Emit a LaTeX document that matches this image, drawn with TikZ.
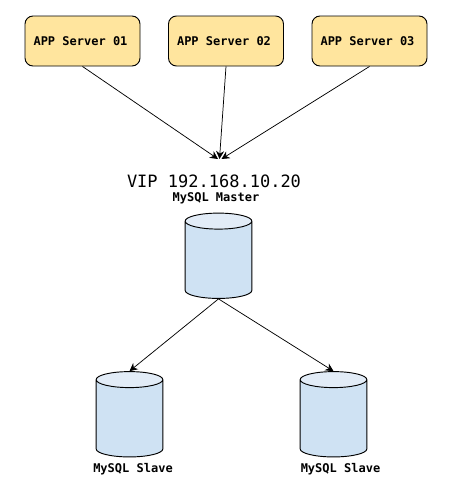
\documentclass[tikz,border=0pt]{standalone}
\usepackage{fontspec}
\setmonofont{DejaVu Sans Mono}
\usetikzlibrary{arrows.meta,shapes.geometric}
\definecolor{appfill}{HTML}{FFE59E}
\definecolor{dbbody}{HTML}{CFE2F3}
\definecolor{dbtop}{HTML}{E2ECF7}
\tikzset{
	appbox/.style={draw, fill=appfill, rounded corners=6pt, line width=0.7pt, inner sep=0pt, minimum width=86.25pt, minimum height=37.5pt, font=\ttfamily\bfseries\fontsize{9}{11}\selectfont},
	dbnode/.style={draw, cylinder, shape border rotate=90, aspect=0.24, inner sep=25pt, minimum height=64pt, cylinder uses custom fill, cylinder body fill=dbbody, cylinder end fill=dbtop, line width=0.7pt},
	dblabel/.style={font=\ttfamily\bfseries\fontsize{9}{11}\selectfont, inner sep=0pt},
	link/.style={-{Stealth[length=6pt,width=6pt]}, line width=0.55pt}
}
\begin{document}
\begin{tikzpicture}[x=0.75pt, y=-0.75pt]
	\useasboundingbox (0,0) rectangle (456,496);
	\foreach \i/\x/\t in {1/82.5/218,2/226/219.5,3/369.5/221.5} {
		\node[appbox] (app\i) at (\x,41) {APP Server 0\i\kern3pt};
		\coordinate (vip\i) at (\t,159);
		\draw[link] (app\i.south) -- (vip\i);
	}
	\node[font=\ttfamily\fontsize{12.75}{15}\selectfont, inner sep=0pt] (viplabel) at (214,181) {VIP 192.168.10.20};
	\node[dblabel] (masterlabel) at (216,198) {MySQL Master};
	\node[dbnode] (master) at (218.5,264) {};
	\node[dbnode] (slavea) at (129.5,422.5) {};
	\node[dbnode] (slaveb) at (333.5,422.5) {};
	\node[dblabel] (slavealabel) at (133,469.5) {MySQL Slave};
	\node[dblabel] (slaveblabel) at (340.5,469.5) {MySQL Slave};
	\draw[link] (master.bottom) -- (slavea.top);
	\draw[link] (master.bottom) -- (slaveb.top);
\end{tikzpicture}
\end{document}
